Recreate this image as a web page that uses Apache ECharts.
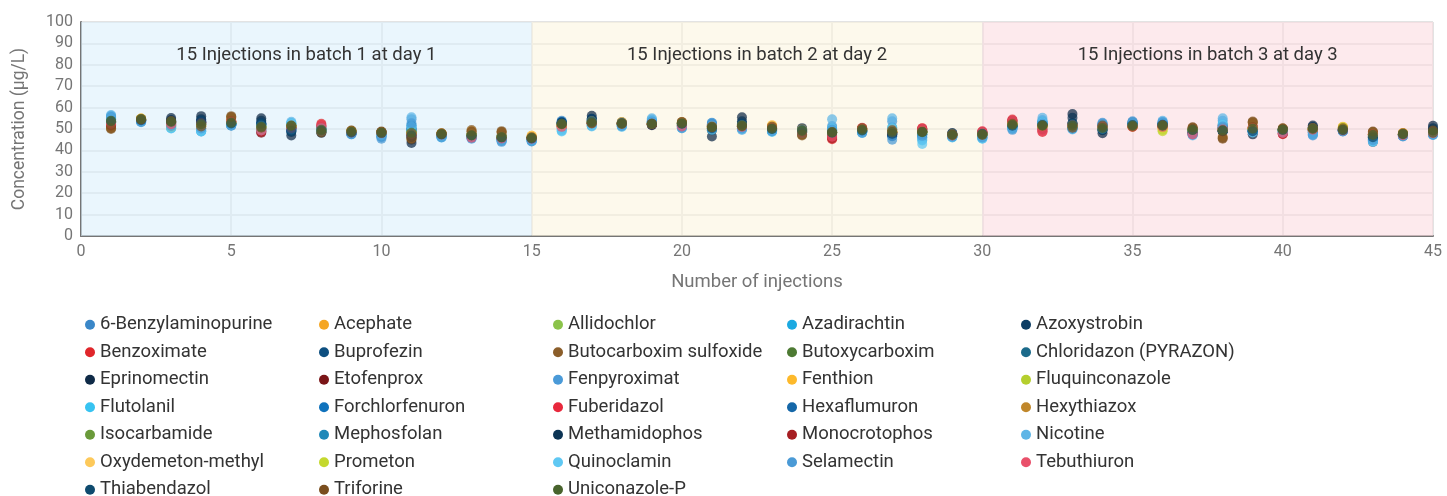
<!DOCTYPE html>
<html>
<head>
<meta charset="utf-8">
<script src="https://cdn.jsdelivr.net/npm/echarts@6/dist/echarts.min.js"></script>
<style>html,body{margin:0;padding:0;background:#fff;}#c{width:1447px;height:496px;}</style>
</head>
<body>
<div id="c"></div>
<script>
const injections = Array.from({length: 45}, (_, i) => i + 1);
const names = ["6-Benzylaminopurine","Acephate","Allidochlor","Azadirachtin","Azoxystrobin","Benzoximate","Buprofezin","Butocarboxim sulfoxide","Butoxycarboxim","Chloridazon (PYRAZON)","Eprinomectin","Etofenprox","Fenpyroximat","Fenthion","Fluquinconazole","Flutolanil","Forchlorfenuron","Fuberidazol","Hexaflumuron","Hexythiazox","Isocarbamide","Mephosfolan","Methamidophos","Monocrotophos","Nicotine","Oxydemeton-methyl","Prometon","Quinoclamin","Selamectin","Tebuthiuron","Thiabendazol","Triforine","Uniconazole-P"];
const colors = ["#3a87c8","#f5a623","#8bc34a","#1ba9e1","#0b3d64","#e0262b","#0d4f80","#8b5e2a","#4d7a33","#1b6a8a","#0f2a47","#7a1517","#4a9ad8","#fdb92b","#b5cf2e","#37c3f1","#0f72bc","#e8283c","#1567a8","#c0872b","#6a9a3a","#1f88b8","#0c3454","#a61e22","#5eb5e6","#fdc95a","#c4d82e","#5fc8f3","#4a9ad6","#e9506a","#0e4a6e","#7a4e1e","#48632c"];
const batchLabels = ["15 Injections in batch 1 at day 1","15 Injections in batch 2 at day 2","15 Injections in batch 3 at day 3"];
const yTicks = [0,10,20,30,40,50,60,70,80,90,100];

const v_6Benzylaminopurine = [55.2,54.1,52.8,53.5,52.3,52.4,50.2,50.1,48.3,46.8,50.5,47.2,46.9,45.6,45.2,53.8,54.6,52.1,53.4,51.8,52.4,51.2,49.6,48.8,49.3,49.1,47.3,48.1,47.6,47.9,51.6,52.8,51.2,52.6,52.8,52.9,48.3,50.6,49.2,49.8,48.5,49.2,45.8,47.1,48.6];
const v_Acephate = [53.1,54.8,52.5,51.4,53.6,50.8,51.5,49.2,48.7,48.3,47.6,47.8,47.3,46.4,46.5,51.7,53.4,52.8,52.2,52.9,50.6,51.8,50.9,49.6,48.1,49.8,48.6,48.9,47.2,47.6,52.3,51.2,51.8,50.4,51.3,50.8,49.6,49.8,50.3,49.2,50.4,50.6,47.4,47.9,48.2];
const v_Allidochlor = [53.8,54.3,51.6,52.6,52.8,51.4,51.8,49.6,48.9,48.1,48.4,47.3,47.1,46.2,45.8,52.3,53.1,52.6,52.7,52.1,51.2,51.6,50.2,49.3,48.8,49.4,48.9,48.3,47.1,47.2,52.1,51.6,51.4,50.9,51.6,51.2,49.4,49.6,50.2,49.7,49.8,49.6,47.3,47.6,48.8];
const v_Azadirachtin = [55.8,53.6,50.6,49.3,52.1,49.2,52.6,48.6,47.8,47.2,49.8,46.4,46.2,44.8,44.6,50.2,51.9,51.8,53.8,51.4,49.8,50.4,49.1,48.4,50.6,48.7,50.8,46.2,46.4,46.3,50.8,53.6,50.7,49.6,52.4,51.8,48.1,51.8,48.9,48.9,49.2,49.1,45.2,47.2,47.8];
const v_Azoxystrobin = [53.2,54.2,53.8,53.6,52.8,52.6,49.6,49.2,48.4,48.4,47.4,47.4,47.2,46.2,45.6,52.8,54.2,52.8,52.2,52.8,50.6,52.4,50.2,49.4,48.2,49.4,48.2,48.8,47.3,47.8,51.8,51.8,52.8,50.2,51.8,51.8,49.6,49.2,49.4,49.6,50.6,49.6,46.4,47.6,49.6];
const v_Benzoximate = [52.2,54.2,52.6,53.2,53.8,48.9,50.6,52.4,48.2,48.4,47.6,47.6,46.2,45.8,45.6,51.2,52.7,52.4,52.4,51.6,51.3,51.2,50.6,48.4,45.2,50.3,48.2,50.4,47.2,48.8,54.4,48.6,51.8,50.8,51.2,51.4,47.8,49.4,50.6,47.6,49.6,49.4,47.6,47.3,48.3];
const v_Buprofezin = [53.8,54.0,53.4,53.0,52.6,52.2,50.2,49.4,48.3,47.9,48.4,47.3,46.9,45.8,45.4,52.6,53.8,52.7,52.6,52.4,51.4,51.9,49.9,49.3,48.4,49.2,47.8,48.6,47.4,47.6,51.6,51.9,52.2,50.1,52.0,52.0,49.4,49.4,49.2,49.8,50.4,49.4,46.6,47.6,49.0];
const v_ButocarboximSulfoxide = [50.0,54.6,53.4,50.4,56.0,50.2,51.2,48.6,49.2,48.2,45.0,47.9,49.5,49.0,45.8,52.6,52.6,52.2,52.8,53.3,50.9,51.4,51.3,47.0,48.6,50.2,49.6,48.6,47.3,47.4,52.8,51.8,50.4,51.2,51.1,51.6,50.6,45.5,53.5,50.3,50.6,50.2,48.6,47.9,48.9];
const v_Butoxycarboxim = [53.6,54.8,53.2,51.8,52.6,51.1,51.8,49.4,48.6,48.3,48.2,47.7,47.2,46.3,45.7,51.8,52.9,52.3,52.2,52.6,51.1,51.3,50.1,49.2,48.4,49.7,48.7,48.6,47.1,47.6,51.8,51.7,51.6,50.6,51.6,51.4,49.6,49.3,49.8,49.6,49.9,49.7,47.2,47.5,48.2];
const v_Chloridazon = [54.4,53.9,52.1,52.9,51.8,51.8,50.4,48.8,47.9,47.8,49.1,47.1,46.6,45.6,45.3,52.6,53.6,53.1,52.9,51.9,50.3,50.9,49.4,49.6,49.1,48.9,47.9,47.6,46.8,47.1,51.2,52.6,52.1,51.3,52.1,52.4,48.9,50.2,49.1,49.2,49.3,49.1,46.4,46.9,48.1];
const v_Eprinomectin = [53.2,54.2,55.1,56.0,52.4,55.0,47.0,48.2,48.4,48.6,43.5,47.3,47.4,46.8,46.1,52.9,56.2,52.8,51.8,52.8,46.5,55.5,49.6,50.4,47.8,48.8,47.4,49.4,48.1,48.1,51.3,51.9,57.0,48.0,53.2,52.6,49.8,48.9,47.5,49.4,51.6,49.4,44.0,47.6,51.5];
const v_Etofenprox = [51.4,54.1,53.1,52.4,53.2,48.3,50.8,50.6,48.1,48.6,46.4,47.4,46.9,45.4,45.4,51.4,52.4,52.6,52.1,52.4,51.6,51.1,50.4,48.8,46.8,49.6,48.4,49.6,47.4,48.2,53.4,50.6,51.4,50.1,51.4,51.1,48.4,51.6,50.9,48.2,49.4,49.8,47.8,47.4,48.4];
const v_Fenpyroximat = [56.2,53.4,51.2,48.8,51.6,50.6,52.1,49.8,47.6,46.2,54.6,46.2,45.8,44.4,44.3,50.6,51.4,51.2,54.4,50.8,52.8,49.8,49.2,48.1,51.4,48.4,53.6,45.8,46.6,46.1,50.4,54.2,50.6,52.2,52.6,53.4,47.6,53.8,48.6,48.6,47.4,49.2,44.6,46.8,47.4];
const v_Fenthion = [53.3,54.9,51.9,51.2,53.4,50.6,51.4,49.1,48.8,48.4,47.9,47.9,47.4,46.6,46.8,51.4,53.8,53.2,52.4,52.8,50.8,51.9,51.6,49.8,48.2,49.9,48.8,48.7,47.4,47.9,52.4,51.4,52.1,50.3,51.2,50.6,49.8,49.6,50.4,49.1,50.2,50.9,47.6,48.1,48.1];
const v_Fluquinconazole = [53.6,54.4,51.2,52.1,52.7,51.2,51.2,49.5,48.7,48.2,48.6,47.6,47.1,46.1,45.6,52.1,53.2,52.4,52.6,52.2,51.4,51.5,50.3,49.1,48.6,49.5,48.6,48.4,47.2,47.4,51.9,51.5,51.5,50.7,51.5,49.6,49.5,49.5,50.1,49.6,49.9,50.8,47.2,47.6,48.6];
const v_Flutolanil = [55.4,53.6,50.4,49.0,51.9,49.6,52.8,48.9,48.1,47.4,51.6,46.6,46.4,45.1,44.8,49.2,52.1,51.6,53.6,51.1,50.2,50.6,48.8,48.6,49.4,48.6,49.8,44.6,46.2,45.6,50.6,53.4,50.2,50.2,52.2,52.1,47.4,52.4,48.8,48.6,48.6,49.3,44.4,46.9,47.6];
const v_Forchlorfenuron = [54.8,53.7,52.4,53.1,52.2,52.1,49.4,49.6,47.9,46.6,51.6,47.1,46.6,45.2,45.4,53.4,54.1,52.2,53.1,51.6,51.8,50.9,49.4,49.1,48.6,48.8,46.8,47.6,47.3,47.2,50.9,52.4,50.9,51.8,52.4,52.6,48.6,50.1,49.6,49.4,48.2,49.0,45.4,46.7,48.4];
const v_Fuberidazol = [52.8,54.3,52.8,52.8,53.4,49.6,50.9,51.8,48.4,48.1,47.9,47.5,46.4,45.9,45.7,51.6,52.9,52.7,52.3,51.4,51.2,51.3,50.8,48.6,46.0,50.1,48.4,50.2,47.3,48.5,53.9,49.2,51.9,50.6,51.4,51.3,47.6,49.6,50.4,47.9,49.8,49.5,47.4,47.4,48.5];
const v_Hexaflumuron = [54.3,54.0,53.8,54.1,52.2,52.9,48.9,49.4,48.2,47.8,50.2,47.4,46.9,45.4,45.2,53.1,54.8,52.6,52.7,52.2,52.2,52.6,49.9,49.6,48.3,49.1,46.6,48.6,47.6,47.6,51.6,52.1,52.3,50.2,52.4,52.3,49.1,49.1,48.8,49.8,50.6,49.4,45.8,47.6,49.2];
const v_Hexythiazox = [50.6,54.7,53.6,51.0,55.2,50.4,51.4,48.8,49.1,48.6,45.8,47.8,49.0,48.4,46.2,52.4,52.8,52.4,52.6,53.1,51.1,51.6,51.4,47.6,48.4,50.4,49.8,48.8,47.2,47.6,52.6,51.6,50.8,51.4,51.3,51.8,50.4,46.4,52.8,50.1,50.4,50.4,48.4,47.8,49.1];
const v_Isocarbamide = [53.9,54.6,53.4,52.4,53.1,51.2,51.3,49.7,48.6,48.1,48.0,47.6,47.0,46.0,45.6,52.2,53.1,52.5,52.4,52.5,51.1,51.6,50.0,49.0,48.4,49.5,48.4,48.4,47.0,47.5,52.2,51.6,51.6,50.4,51.5,51.6,49.4,49.6,50.0,49.5,50.1,49.5,47.1,47.5,48.6];
const v_Mephosfolan = [54.6,53.9,51.8,52.2,52.0,50.9,50.2,49.1,48.0,47.5,49.4,46.9,46.5,45.3,45.2,51.9,52.8,51.9,53.2,51.3,50.1,50.6,49.3,48.9,49.8,48.7,48.1,47.4,46.9,46.9,51.1,53.1,51.1,51.6,52.3,52.2,48.8,50.8,49.3,49.1,48.9,49.2,46.1,47.1,47.9];
const v_Methamidophos = [53.4,54.4,54.2,54.6,52.5,53.8,48.6,48.9,48.5,48.5,46.2,47.4,47.4,46.5,45.9,53.0,54.8,53.0,52.0,52.7,49.4,53.6,49.8,49.8,48.2,49.2,47.6,48.9,47.8,48.0,51.6,52.0,55.2,49.4,52.4,52.0,49.9,49.0,48.6,49.6,51.0,49.6,45.4,47.7,50.4];
const v_Monocrotophos = [51.8,54.2,52.9,52.9,53.5,48.6,50.7,51.2,48.3,48.3,47.4,47.5,46.6,45.7,45.5,51.3,52.6,52.5,52.2,51.9,51.4,51.3,50.7,48.6,45.6,49.9,48.3,49.9,47.3,48.6,53.8,49.8,51.6,50.5,51.3,51.2,48.1,50.6,50.7,47.8,49.6,49.6,47.7,47.3,48.4];
const v_Nicotine = [56.5,53.5,50.8,49.6,51.8,50.2,53.4,50.4,47.7,46.8,55.5,46.3,46.1,44.6,44.5,49.6,51.6,51.4,55.0,50.6,51.8,49.6,48.9,48.3,54.5,48.5,55.0,45.1,46.3,45.8,50.2,55.2,50.4,51.9,53.2,53.8,47.2,55.0,48.7,48.8,47.8,49.4,44.2,47.0,47.6];
const v_OxydemetonMethyl = [53.4,54.9,51.4,51.6,53.3,50.8,51.6,49.2,48.8,48.5,47.8,47.8,47.5,46.5,46.9,51.3,53.6,53.1,52.5,52.8,50.7,51.8,51.8,49.7,48.3,50.0,48.9,48.9,47.5,47.9,52.3,51.3,52.0,50.2,51.1,50.2,49.7,49.7,50.3,49.2,50.3,51.0,47.5,48.0,48.0];
const v_Prometon = [53.7,54.5,51.0,51.9,52.8,51.3,51.1,49.4,48.8,48.2,48.4,47.7,47.2,46.2,45.6,51.9,53.3,52.5,52.6,52.3,51.3,51.6,50.4,49.2,48.7,49.6,48.7,48.5,47.2,47.4,51.9,51.6,51.4,50.6,51.4,49.0,49.4,49.6,50.2,49.5,49.8,50.7,47.3,47.6,48.6];
const v_Quinoclamin = [55.0,53.4,50.2,48.8,51.7,49.4,52.4,49.0,47.9,47.0,51.0,46.0,45.8,44.6,44.4,48.8,51.2,51.0,53.9,50.4,49.6,50.2,48.6,48.2,50.2,48.1,50.4,43.0,46.0,45.5,50.0,53.0,49.8,50.0,51.8,51.6,47.0,51.9,48.4,48.4,47.3,48.9,44.0,46.6,47.2];
const v_Selamectin = [55.6,53.2,51.4,50.2,51.5,51.6,49.8,50.0,47.5,45.5,52.7,46.1,45.5,44.0,44.2,52.4,53.2,51.4,53.6,50.4,52.9,50.2,49.0,48.4,49.6,48.2,45.0,46.8,46.4,46.0,49.6,52.6,50.0,52.9,53.6,53.2,47.4,51.2,49.0,48.4,47.0,48.8,44.8,46.5,47.2];
const v_Tebuthiuron = [52.4,54.4,52.2,52.6,53.6,49.2,50.4,51.4,48.4,48.0,47.7,47.4,45.9,45.6,45.5,51.0,52.8,52.6,52.4,51.2,51.0,51.0,50.5,48.3,46.4,50.6,48.6,50.0,47.0,48.9,54.0,49.0,51.7,50.9,51.0,51.0,47.4,49.8,50.5,48.0,49.7,49.3,47.5,47.1,48.0];
const v_Thiabendazol = [53.6,54.1,53.6,53.4,52.6,52.4,49.2,49.2,48.4,48.2,47.0,47.5,47.1,46.1,45.6,52.6,53.6,52.8,52.4,52.5,50.4,52.2,50.0,49.5,48.3,49.3,47.8,48.6,47.6,47.8,51.5,51.9,52.4,49.8,51.9,52.0,49.6,49.3,49.0,49.7,50.5,49.5,46.2,47.7,49.4];
const v_Triforine = [50.4,54.5,53.7,51.2,55.6,50.6,51.6,48.4,49.3,48.8,45.4,48.0,48.8,48.6,46.1,52.2,52.6,52.3,52.4,53.2,50.8,51.3,51.1,47.3,48.6,50.3,49.4,48.8,47.4,47.2,52.4,51.4,50.6,51.6,51.2,51.7,50.8,45.8,53.2,50.2,50.5,50.3,48.8,48.0,49.3];
const v_UniconazoleP = [53.8,54.7,53.3,52.2,52.9,51.0,51.5,49.6,48.7,48.2,48.2,47.6,47.0,46.1,45.8,52.3,53.0,52.6,52.3,52.6,51.0,51.5,50.1,49.1,48.5,49.6,48.6,48.5,47.1,47.5,52.0,51.7,51.5,50.5,51.6,51.5,49.5,49.4,50.1,49.6,50.0,49.6,47.2,47.6,48.3];

const values = [v_6Benzylaminopurine,v_Acephate,v_Allidochlor,v_Azadirachtin,v_Azoxystrobin,v_Benzoximate,v_Buprofezin,v_ButocarboximSulfoxide,v_Butoxycarboxim,v_Chloridazon,v_Eprinomectin,v_Etofenprox,v_Fenpyroximat,v_Fenthion,v_Fluquinconazole,v_Flutolanil,v_Forchlorfenuron,v_Fuberidazol,v_Hexaflumuron,v_Hexythiazox,v_Isocarbamide,v_Mephosfolan,v_Methamidophos,v_Monocrotophos,v_Nicotine,v_OxydemetonMethyl,v_Prometon,v_Quinoclamin,v_Selamectin,v_Tebuthiuron,v_Thiabendazol,v_Triforine,v_UniconazoleP];

const FONT = 'Roboto, "Noto Sans", sans-serif';
const chart = echarts.init(document.getElementById('c'), null, {renderer: 'canvas'});

const series = names.map((n, k) => ({
  name: n,
  type: 'scatter',
  symbol: 'circle',
  symbolSize: 10,
  itemStyle: {color: colors[k], opacity: 0.72},
  emphasis: {disabled: true},
  data: injections.map((x, i) => [x, values[k][i]]),
  z: 3
}));

series.unshift({
  name: '__areas',
  type: 'scatter',
  data: [],
  silent: true,
  z: 1,
  markArea: {
    silent: true,
    label: {show: true, position: 'insideTop', distance: 24, color: '#333', fontSize: 18.5, fontFamily: FONT},
    data: [
      [{name: batchLabels[0], xAxis: 0, itemStyle: {color: 'rgba(220,240,252,0.6)'}}, {xAxis: 15}],
      [{name: batchLabels[1], xAxis: 15, itemStyle: {color: 'rgba(252,245,223,0.6)'}}, {xAxis: 30}],
      [{name: batchLabels[2], xAxis: 30, itemStyle: {color: 'rgba(252,220,225,0.6)'}}, {xAxis: 45}]
    ]
  }
});

chart.setOption({
  animation: false,
  color: colors,
  grid: {left: 81, right: 14, top: 22, height: 214, containLabel: false},
  xAxis: {
    type: 'value', min: 0, max: 45, interval: 5,
    name: 'Number of injections', nameLocation: 'middle', nameGap: 37,
    nameTextStyle: {color: '#757575', fontSize: 18.5, fontFamily: FONT},
    axisLine: {show: true, lineStyle: {color: '#757575', width: 2}},
    axisTick: {show: false},
    axisLabel: {color: '#757575', fontSize: 16, fontFamily: FONT, margin: 8},
    splitLine: {show: true, lineStyle: {color: '#e3e3e3', width: 2}}
  },
  yAxis: {
    type: 'value', min: 0, max: 100, interval: 10,
    name: 'Concentration (µg/L)', nameLocation: 'middle', nameGap: 52,
    nameTextStyle: {color: '#757575', fontSize: 17.5, fontFamily: FONT},
    axisLine: {show: true, lineStyle: {color: '#757575', width: 2}},
    axisTick: {show: false},
    axisLabel: {color: '#757575', fontSize: 16, fontFamily: FONT, margin: 8,
      formatter: v => yTicks.includes(v) ? String(v) : ''},
    splitLine: {show: true, lineStyle: {color: '#e3e3e3', width: 2}}
  },
  legend: {
    data: names.map((n, k) => ({name: n, itemStyle: {color: colors[k], opacity: 1}})),
    left: 80, top: 310, width: 1180,
    orient: 'horizontal',
    icon: 'circle', itemWidth: 10, itemHeight: 10, itemGap: 8,
    itemStyle: {opacity: 1},
    textStyle: {color: '#333', fontSize: 18.5, fontFamily: FONT, width: 211, lineHeight: 19.5, overflow: 'none'},
    selectedMode: false
  },
  series: series
});
</script>
</body>
</html>
